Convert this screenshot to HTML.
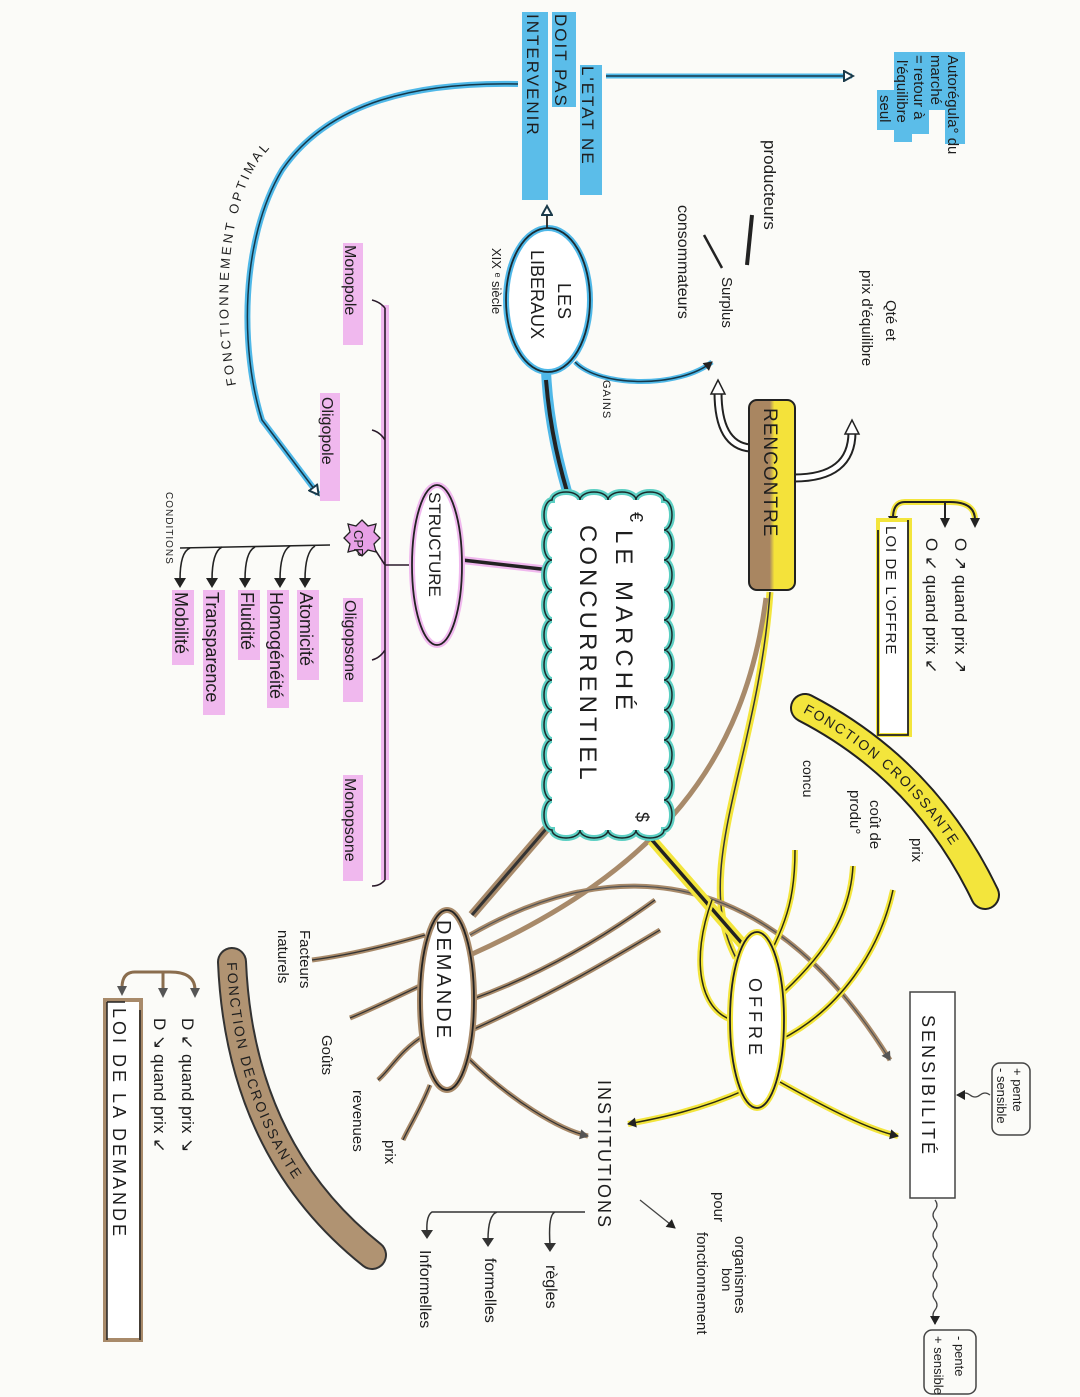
<!DOCTYPE html>
<html><head><meta charset="utf-8"><style>
html,body{margin:0;padding:0;background:#fbfbf8;}
svg{display:block;}
text{font-family:"Liberation Sans",sans-serif;fill:#1e1e1e;}
</style></head><body>
<svg width="1080" height="1397" viewBox="0 0 1080 1397" xmlns="http://www.w3.org/2000/svg">
<defs>
<marker id="ob" markerWidth="12" markerHeight="12" refX="9" refY="6" orient="auto" markerUnits="userSpaceOnUse"><path d="M1,1 L10,6 L1,11 Z" fill="#fff" stroke="#1a3a4a" stroke-width="2"/></marker>
<marker id="fb" markerWidth="12" markerHeight="12" refX="9" refY="6" orient="auto" markerUnits="userSpaceOnUse"><path d="M1,1 L10,6 L1,11 Z" fill="#555"/></marker>
<marker id="fk" markerWidth="12" markerHeight="12" refX="9" refY="6" orient="auto" markerUnits="userSpaceOnUse"><path d="M1,1 L10,6 L1,11 Z" fill="#222"/></marker>
<linearGradient id="rg" x1="0" x2="1" y1="0" y2="0"><stop offset="0.45" stop-color="#a98661"/><stop offset="0.55" stop-color="#f4e23a"/></linearGradient>
<path id="pc" d="M805,708 Q925,770 985,895"/>
<path id="pd" d="M232,962 Q240,1150 372,1255"/>
<path id="pf" d="M236,385 C220,300 228,190 268,150 C298,115 338,98 378,92"/>
<path id="cloud" d="M552,500 a14,8 0 0 1 28,0 a14,8 0 0 1 28,0 a14,8 0 0 1 28,0 a14,8 0 0 1 28,0
 a8,15 0 0 1 0,30 a8,15 0 0 1 0,30 a8,15 0 0 1 0,30 a8,15 0 0 1 0,30 a8,15 0 0 1 0,30 a8,15 0 0 1 0,30 a8,15 0 0 1 0,30 a8,15 0 0 1 0,30 a8,15 0 0 1 0,30 a8,15 0 0 1 0,30 a8,15 0 0 1 0,30
 a14,8 0 0 1 -28,0 a14,8 0 0 1 -28,0 a14,8 0 0 1 -28,0 a14,8 0 0 1 -28,0
 a8,15 0 0 1 0,-30 a8,15 0 0 1 0,-30 a8,15 0 0 1 0,-30 a8,15 0 0 1 0,-30 a8,15 0 0 1 0,-30 a8,15 0 0 1 0,-30 a8,15 0 0 1 0,-30 a8,15 0 0 1 0,-30 a8,15 0 0 1 0,-30 a8,15 0 0 1 0,-30 a8,15 0 0 1 0,-30 z"/>
</defs>

<g fill="#5bbde9">
<rect x="945" y="52" width="20" height="92"/><rect x="928" y="52" width="18" height="58"/><rect x="911" y="52" width="18" height="82"/><rect x="894" y="52" width="18" height="90"/><rect x="877" y="90" width="18" height="40"/>
<rect x="580" y="65" width="22" height="130"/><rect x="552" y="12" width="24" height="95"/><rect x="522" y="12" width="26" height="188"/>
</g>
<g font-size="15">
<text transform="translate(948,55) rotate(90)">Autorégula° du</text>
<text transform="translate(931,55) rotate(90)">marché</text>
<text transform="translate(914,55) rotate(90)">= retour à</text>
<text transform="translate(897,60) rotate(90)">l'équilibre</text>
<text transform="translate(880,95) rotate(90)">seul</text>
</g>
<g font-size="17" letter-spacing="2">
<text transform="translate(582,66) rotate(90)">L'ETAT  NE</text>
<text transform="translate(555,14) rotate(90)">DOIT  PAS</text>
<text transform="translate(527,14) rotate(90)">INTERVENIR</text>
</g>
<path d="M606,76 L852,76" stroke="#4fb8e8" stroke-width="5" fill="none"/>
<path d="M606,76 L852,76" stroke="#15384a" stroke-width="1.5" fill="none" marker-end="url(#ob)"/>

<path d="M518,84 C420,82 330,100 282,170 C240,240 240,350 262,420 L318,494" stroke="#4fb8e8" stroke-width="6" fill="none"/>
<path d="M518,84 C420,82 330,100 282,170 C240,240 240,350 262,420 L318,494" stroke="#15384a" stroke-width="1.5" fill="none" marker-end="url(#ob)"/>
<text font-size="13" letter-spacing="3"><textPath href="#pf">FONCTIONNEMENT   OPTIMAL</textPath></text>

<path d="M546,370 C548,420 560,470 572,508" stroke="#4fb8e8" stroke-width="10" fill="none"/>
<path d="M546,380 C550,430 560,470 572,508" stroke="#222" stroke-width="4" fill="none"/>
<ellipse cx="548" cy="300" rx="42" ry="72" fill="#fff" stroke="#4fb8e8" stroke-width="6"/>
<ellipse cx="548" cy="300" rx="42" ry="72" fill="none" stroke="#1a2a30" stroke-width="1.8"/>
<text transform="translate(558,283) rotate(90)" font-size="18" letter-spacing="1">LES</text>
<text transform="translate(531,250) rotate(90)" font-size="18">LIBERAUX</text>
<text transform="translate(492,248) rotate(90)" font-size="13">XIX ᵉ siècle</text>
<path d="M547,228 L547,207" stroke="#222" stroke-width="1.8" marker-end="url(#ob)"/>
<path d="M575,362 C600,388 680,388 712,362" stroke="#4fb8e8" stroke-width="5" fill="none"/>
<path d="M575,362 C600,388 680,388 712,362" stroke="#15384a" stroke-width="1.5" fill="none" marker-end="url(#fk)"/>
<text transform="translate(603,380) rotate(90)" font-size="11" letter-spacing="1">GAINS</text>

<text transform="translate(764,140) rotate(90)" font-size="17">producteurs</text>
<text transform="translate(678,205) rotate(90)" font-size="16">consommateurs</text>
<text transform="translate(722,277) rotate(90)" font-size="15">Surplus</text>
<path d="M752,215 L747,265" stroke="#222" stroke-width="4"/>
<path d="M704,235 L722,268" stroke="#222" stroke-width="2.5"/>
<text transform="translate(886,300) rotate(90)" font-size="15">Qté  et</text>
<text transform="translate(862,270) rotate(90)" font-size="15">prix d'équilibre</text>

<path d="M750,448 Q718,445 718,392" stroke="#222" stroke-width="9" fill="none"/>
<path d="M750,448 Q718,445 718,392" stroke="#fff" stroke-width="5" fill="none"/>
<path d="M711,394 L718,380 L725,394 Z" fill="#fff" stroke="#222" stroke-width="1.5"/>
<path d="M794,478 Q852,478 852,432" stroke="#222" stroke-width="9" fill="none"/>
<path d="M794,478 Q852,478 852,432" stroke="#fff" stroke-width="5" fill="none"/>
<path d="M845,434 L852,420 L859,434 Z" fill="#fff" stroke="#222" stroke-width="1.5"/>
<rect x="749" y="400" width="46" height="190" rx="8" fill="url(#rg)" stroke="#222" stroke-width="2"/>
<text transform="translate(764,408) rotate(90)" font-size="19" letter-spacing="1">RENCONTRE</text>

<path d="M770,592 C758,760 690,870 736,958" stroke="#f3e53c" stroke-width="7" fill="none"/>
<path d="M770,592 C758,760 690,870 736,958" stroke="#333" stroke-width="1.5" fill="none"/>
<path d="M766,598 C745,760 660,870 470,955" stroke="#a88a6a" stroke-width="5" fill="none"/>
<path d="M470,935 C600,860 760,850 890,1060" stroke="#a88a6a" stroke-width="5" fill="none"/>
<path d="M470,935 C600,860 760,850 890,1060" stroke="#555" stroke-width="1.2" fill="none" marker-end="url(#fb)"/>
<path d="M652,840 L746,948" stroke="#f3e53c" stroke-width="11"/>
<path d="M652,840 L746,948" stroke="#222" stroke-width="3.5"/>
<path d="M558,815 L472,915" stroke="#a88a6a" stroke-width="9"/>
<path d="M558,815 L472,915" stroke="#333" stroke-width="3"/>
<path d="M550,570 L462,560" stroke="#f0b8ee" stroke-width="8"/>
<path d="M550,570 L462,560" stroke="#222" stroke-width="3.5"/>

<use href="#cloud" fill="#fff" stroke="#5ccfc3" stroke-width="6"/>
<use href="#cloud" fill="none" stroke="#1a2a2a" stroke-width="1.5"/>
<text transform="translate(630,512) rotate(90)" font-size="18">€</text>
<text transform="translate(616,530) rotate(90)" font-size="24" letter-spacing="5">LE  MARCHÉ</text>
<text transform="translate(580,525) rotate(90)" font-size="24" letter-spacing="4">CONCURRENTIEL</text>
<text transform="translate(636,812) rotate(90)" font-size="18">$</text>

<path d="M975,520 Q975,502 950,502 L905,502 Q893,502 893,518" stroke="#f3e53c" stroke-width="6" fill="none"/>
<path d="M975,520 Q975,502 950,502 L905,502 Q893,502 893,518 M945,502 L945,520" stroke="#222" stroke-width="2" fill="none"/>
<path d="M970,518 L975,528 L980,518 Z M940,518 L945,528 L950,518 Z M888,516 L893,526 L898,516 Z" fill="#222"/>
<text transform="translate(955,538) rotate(90)" font-size="17">O ↗  quand  prix ↗</text>
<text transform="translate(926,538) rotate(90)" font-size="17">O ↙  quand  prix ↙</text>
<rect x="878" y="520" width="32" height="215" fill="#fff" stroke="#f3e53c" stroke-width="4"/>
<path d="M878,530 L878,735 L908,735 L908,520" stroke="#222" stroke-width="1.8" fill="none"/>
<text transform="translate(886,526) rotate(90)" font-size="15" letter-spacing="1">LOI  DE  L'OFFRE</text>

<use href="#pc" stroke="#222" stroke-width="30" stroke-linecap="round" fill="none"/>
<use href="#pc" stroke="#f3e53c" stroke-width="26" stroke-linecap="round" fill="none"/>
<text font-size="14" letter-spacing="2" dy="5"><textPath href="#pc">FONCTION  CROISSANTE</textPath></text>
<text transform="translate(912,838) rotate(90)" font-size="15">prix</text>
<text transform="translate(870,800) rotate(90)" font-size="15">coût de</text>
<text transform="translate(850,790) rotate(90)" font-size="15">produ°</text>
<text transform="translate(803,760) rotate(90)" font-size="14">concu</text>

<g fill="none" stroke="#f3e53c" stroke-width="6">
<path d="M762,968 C790,920 795,890 795,850"/><path d="M775,1000 C820,960 850,920 853,866"/><path d="M780,1040 C840,1010 880,950 893,890"/>
<path d="M745,1090 C700,1110 660,1118 628,1124"/><path d="M780,1082 C830,1110 870,1130 898,1136"/>
<path d="M732,1020 C700,1010 690,960 712,900"/>
</g>
<g fill="none" stroke="#2a2a10" stroke-width="1.5">
<path d="M762,968 C790,920 795,890 795,850"/><path d="M775,1000 C820,960 850,920 853,866"/><path d="M780,1040 C840,1010 880,950 893,890"/>
<path d="M745,1090 C700,1110 660,1118 628,1124" marker-end="url(#fk)"/><path d="M780,1082 C830,1110 870,1130 898,1136" marker-end="url(#fk)"/>
<path d="M732,1020 C700,1010 690,960 712,900"/>
</g>
<ellipse cx="757" cy="1020" rx="27" ry="88" fill="#fff" stroke="#f3e53c" stroke-width="6"/>
<ellipse cx="757" cy="1020" rx="27" ry="88" fill="none" stroke="#222" stroke-width="1.8"/>
<text transform="translate(749,978) rotate(90)" font-size="18" letter-spacing="4">OFFRE</text>

<rect x="910" y="992" width="45" height="206" fill="#fff" stroke="#444" stroke-width="1.5"/>
<text transform="translate(922,1015) rotate(90)" font-size="18" letter-spacing="3">SENSIBILITÉ</text>
<rect x="992" y="1063" width="38" height="72" rx="8" fill="none" stroke="#444" stroke-width="1.5"/>
<text transform="translate(1013,1068) rotate(90)" font-size="13">+ pente</text>
<text transform="translate(997,1068) rotate(90)" font-size="13">- sensible</text>
<path d="M990,1095 q-5,-4 -10,0 q-5,4 -10,0 q-5,-4 -10,0 l-3,0" stroke="#444" fill="none" stroke-width="1.3" marker-end="url(#fk)"/>
<rect x="924" y="1330" width="52" height="64" rx="8" fill="none" stroke="#444" stroke-width="1.5"/>
<text transform="translate(955,1336) rotate(90)" font-size="13">- pente</text>
<text transform="translate(934,1336) rotate(90)" font-size="13">+ sensible</text>
<path d="M935,1200 q4,5 0,10 q-4,5 0,10 q4,5 0,10 q-4,5 0,10 q4,5 0,10 q-4,5 0,10 q4,5 0,10 q-4,5 0,10 q4,5 0,10 q-4,5 0,10 q4,5 0,10 q-4,5 0,10 l0,4" stroke="#444" fill="none" stroke-width="1.3" marker-end="url(#fk)"/>

<text transform="translate(735,1236) rotate(90)" font-size="15">organismes</text>
<text transform="translate(714,1192) rotate(90)" font-size="15">pour</text>
<text transform="translate(722,1268) rotate(90)" font-size="14">bon</text>
<text transform="translate(697,1232) rotate(90)" font-size="15">fonctionnement</text>
<path d="M640,1200 L675,1228" stroke="#444" stroke-width="1.3" marker-end="url(#fk)"/>

<text transform="translate(598,1080) rotate(90)" font-size="18" letter-spacing="2">INSTITUTIONS</text>
<path d="M585,1212 L432,1212 Q426,1216 427,1232 M555,1212 Q548,1215 550,1245 M497,1212 Q488,1215 488,1240" stroke="#333" stroke-width="1.5" fill="none"/>
<path d="M544,1243 L550,1252 L556,1243 Z M482,1238 L488,1247 L494,1238 Z M421,1230 L427,1239 L433,1230 Z" fill="#333"/>
<text transform="translate(546,1265) rotate(90)" font-size="16">règles</text>
<text transform="translate(485,1258) rotate(90)" font-size="16">formelles</text>
<text transform="translate(420,1250) rotate(90)" font-size="16">Informelles</text>

<g fill="none" stroke="#a88a6a" stroke-width="5">
<path d="M425,935 C390,945 350,955 312,960"/><path d="M422,985 C390,1000 370,1010 350,1018"/><path d="M425,1035 C400,1050 390,1070 378,1080"/><path d="M430,1085 C420,1110 410,1125 403,1140"/>
<path d="M468,1058 C510,1100 560,1130 588,1136"/><path d="M470,1000 C540,975 600,940 655,900"/><path d="M472,1030 C560,990 610,960 660,930"/>
</g>
<g fill="none" stroke="#333" stroke-width="1.3">
<path d="M425,935 C390,945 350,955 312,960"/><path d="M422,985 C390,1000 370,1010 350,1018"/><path d="M425,1035 C400,1050 390,1070 378,1080"/><path d="M430,1085 C420,1110 410,1125 403,1140"/>
<path d="M468,1058 C510,1100 560,1130 588,1136" marker-end="url(#fb)"/><path d="M470,1000 C540,975 600,940 655,900"/><path d="M472,1030 C560,990 610,960 660,930"/>
</g>
<ellipse cx="447" cy="1000" rx="27" ry="90" fill="#fff" stroke="#a88a6a" stroke-width="6"/>
<ellipse cx="447" cy="1000" rx="27" ry="90" fill="none" stroke="#222" stroke-width="1.8"/>
<text transform="translate(437,920) rotate(90)" font-size="20" letter-spacing="3">DEMANDE</text>
<text transform="translate(300,930) rotate(90)" font-size="15">Facteurs</text>
<text transform="translate(278,930) rotate(90)" font-size="15">naturels</text>
<text transform="translate(322,1035) rotate(90)" font-size="15">Goûts</text>
<text transform="translate(353,1090) rotate(90)" font-size="15">revenues</text>
<text transform="translate(385,1140) rotate(90)" font-size="15">prix</text>

<use href="#pd" stroke="#333" stroke-width="30" stroke-linecap="round" fill="none"/>
<use href="#pd" stroke="#b09372" stroke-width="26" stroke-linecap="round" fill="none"/>
<text font-size="14" letter-spacing="2" dy="5"><textPath href="#pd">FONCTION   DECROISSANTE</textPath></text>

<path d="M195,990 Q195,972 170,972 L135,972 Q122,972 122,988 M163,972 L163,990" stroke="#8a6d4e" stroke-width="3" fill="none"/>
<path d="M190,988 L195,998 L200,988 Z M158,988 L163,998 L168,988 Z M117,986 L122,996 L127,986 Z" fill="#555"/>
<text transform="translate(182,1018) rotate(90)" font-size="17">D ↙  quand  prix ↘</text>
<text transform="translate(154,1018) rotate(90)" font-size="17">D ↘  quand  prix ↙</text>
<rect x="105" y="1000" width="36" height="340" fill="#fff" stroke="#a88a6a" stroke-width="4"/>
<path d="M107,1002 L107,1340 M140,1010 L140,1340 M107,1002 L125,1002" stroke="#222" stroke-width="1.5" fill="none"/>
<text transform="translate(113,1008) rotate(90)" font-size="18" letter-spacing="3">LOI  DE  LA  DEMANDE</text>

<path d="M385,305 L385,880" stroke="#f0b8ee" stroke-width="8"/>
<path d="M385,308 L385,880 M385,565 L410,565 M385,308 Q380,302 372,300 M385,440 Q380,432 372,430 M385,650 Q380,658 372,660 M385,880 Q380,886 372,886 M385,565 L372,545" stroke="#2a1a2a" stroke-width="1.6" fill="none"/>
<ellipse cx="437" cy="565" rx="25" ry="80" fill="#fff" stroke="#f0b8ee" stroke-width="6"/>
<ellipse cx="437" cy="565" rx="25" ry="80" fill="none" stroke="#222" stroke-width="1.8"/>
<text transform="translate(429,492) rotate(90)" font-size="17">STRUCTURE</text>
<g fill="#f0b8ee"><rect x="343" y="243" width="20" height="102"/><rect x="320" y="393" width="20" height="108"/><rect x="343" y="598" width="20" height="104"/><rect x="343" y="775" width="20" height="106"/></g>
<text transform="translate(345,245) rotate(90)" font-size="16">Monopole</text>
<text transform="translate(322,397) rotate(90)" font-size="16">Oligopole</text>
<text transform="translate(345,600) rotate(90)" font-size="16">Oligopsone</text>
<text transform="translate(345,778) rotate(90)" font-size="16">Monopsone</text>
<path d="M362,520 l6,6 l8,-2 l-2,8 l6,6 l-6,6 l2,8 l-8,-2 l-6,6 l-6,-6 l-8,2 l2,-8 l-6,-6 l6,-6 l-2,-8 l8,2 z" fill="#e7a0e6" stroke="#222" stroke-width="1.3"/>
<text transform="translate(354,530) rotate(90)" font-size="13">CPP</text>

<text transform="translate(166,492) rotate(90)" font-size="10" letter-spacing="1">CONDITIONS</text>
<path d="M330,545 L180,548" stroke="#222" stroke-width="1.6"/>
<path d="M315,546 Q305,552 305,580 M290,546 Q280,552 280,580 M255,547 Q245,552 245,580 M222,547 Q212,552 212,580 M190,548 Q180,552 180,580" stroke="#222" stroke-width="1.6" fill="none"/>
<path d="M299,578 L305,588 L311,578 Z M274,578 L280,588 L286,578 Z M239,578 L245,588 L251,578 Z M206,578 L212,588 L218,578 Z M174,578 L180,588 L186,578 Z" fill="#222"/>
<g fill="#f0b8ee"><rect x="297" y="590" width="22" height="90"/><rect x="267" y="590" width="22" height="118"/><rect x="238" y="590" width="22" height="70"/><rect x="203" y="590" width="22" height="125"/><rect x="172" y="590" width="22" height="75"/></g>
<g font-size="18">
<text transform="translate(300,592) rotate(90)">Atomicité</text>
<text transform="translate(270,592) rotate(90)">Homogénéité</text>
<text transform="translate(241,592) rotate(90)">Fluidité</text>
<text transform="translate(206,592) rotate(90)">Transparence</text>
<text transform="translate(175,592) rotate(90)">Mobilité</text>
</g>
</svg>
</body></html>
